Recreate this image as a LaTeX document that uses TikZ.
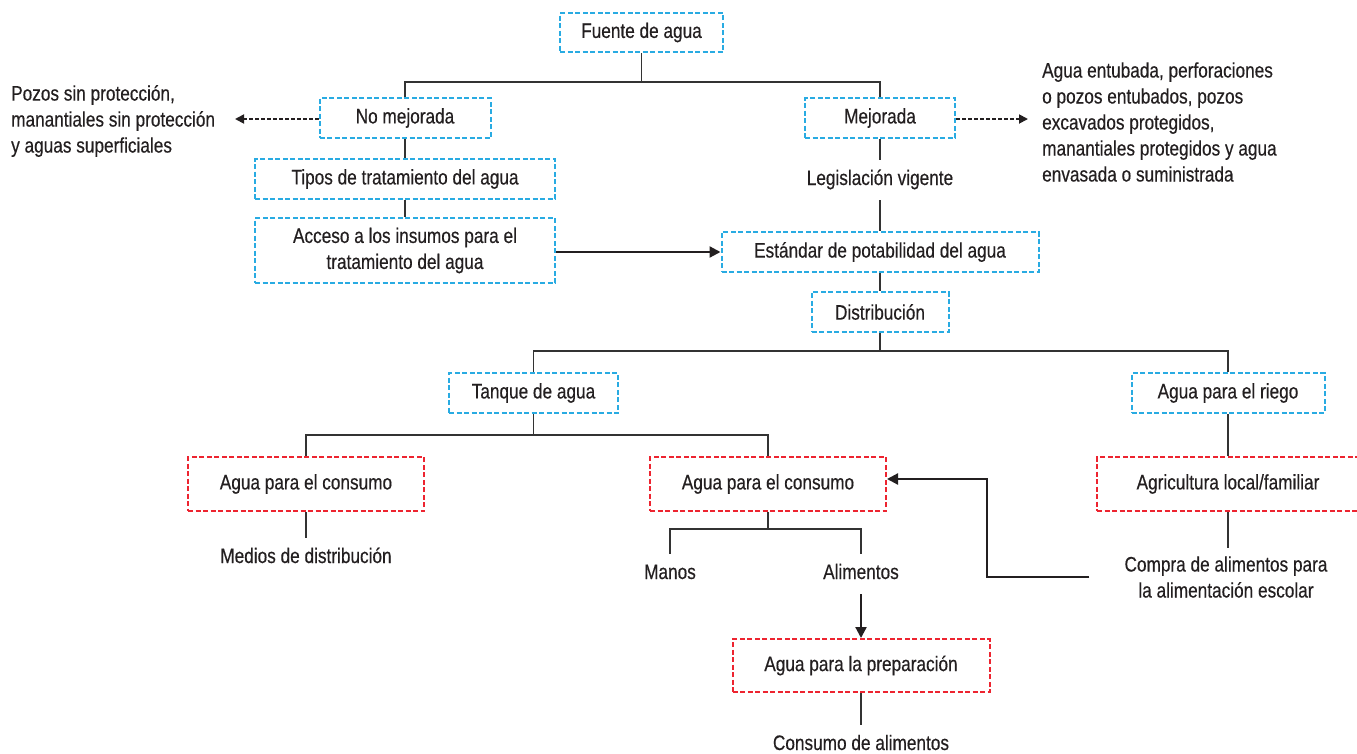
\documentclass[tikz,border=0pt]{standalone}
\usepackage{fontspec}
\setmainfont[FakeStretch=0.82,FakeBold=0.4]{Liberation Sans}
\usetikzlibrary{arrows.meta}
\definecolor{boxblue}{RGB}{41,171,226}
\definecolor{boxred}{RGB}{237,36,48}
\definecolor{ink}{RGB}{35,31,32}
\definecolor{linec}{RGB}{51,51,51}
\begin{document}
\begin{tikzpicture}[x=1pt,y=-1pt,
  every node/.style={font=\fontsize{21pt}{26pt}\selectfont, text=ink},
  bbox/.style={draw=boxblue, line width=2pt, dash pattern=on 5pt off 2.5pt, inner sep=0pt, align=center},
  rbox/.style={draw=boxred, line width=2pt, dash pattern=on 5pt off 2.5pt, inner sep=0pt, align=center},
  txt/.style={inner xsep=0pt, inner ysep=10pt, text height=15pt, text depth=5pt},
  tree/.style={draw=linec, line width=1.5pt},
  arr/.style={draw=ink, line width=2.2pt, -{Triangle[length=11pt,width=11pt]}},
  darr/.style={draw=ink, line width=1.8pt, dash pattern=on 4pt off 2pt, -{Triangle[length=9pt,width=9pt]}}]
\useasboundingbox (0,0) rectangle (1357,753);
% boxes
\node[bbox, minimum width=163pt, minimum height=39pt] (fuente) at (641.5,32.5) {Fuente de agua};
\node[bbox, minimum width=171pt, minimum height=40pt] (nomej) at (405,118) {No mejorada};
\node[bbox, minimum width=150pt, minimum height=40pt] (mej) at (880,118) {Mejorada};
\node[bbox, minimum width=300pt, minimum height=40pt] (tipos) at (405,179) {Tipos de tratamiento del agua};
\node[bbox, minimum width=300pt, minimum height=65pt] (acceso) at (405,250.5) {Acceso a los insumos para el\\tratamiento del agua};
\node[bbox, minimum width=317pt, minimum height=40pt] (estandar) at (880,252) {Estándar de potabilidad del agua};
\node[bbox, minimum width=137pt, minimum height=40pt] (distrib) at (880,312) {Distribución};
\node[bbox, minimum width=169pt, minimum height=40pt] (tanque) at (533.5,393) {Tanque de agua};
\node[bbox, minimum width=193pt, minimum height=40pt] (riego) at (1228,393) {Agua para el riego};
\node[rbox, minimum width=236pt, minimum height=54pt] (cons1) at (306,484) {Agua para el consumo};
\node[rbox, minimum width=236pt, minimum height=54pt] (cons2) at (768,484) {Agua para el consumo};
\node[rbox, minimum width=262pt, minimum height=54pt] (agri) at (1228,484) {Agricultura local/familiar};
\node[rbox, minimum width=257pt, minimum height=53pt] (prep) at (861,665.5) {Agua para la preparación};
% plain texts
\node[inner sep=0pt, align=left, anchor=west] (pozos) at (11,121) {Pozos sin protección,\\manantiales sin protección\\y aguas superficiales};
\node[inner sep=0pt, align=left, anchor=west] (mejtxt) at (1042,122) {Agua entubada, perforaciones\\o pozos entubados, pozos\\excavados protegidos,\\manantiales protegidos y agua\\envasada o suministrada};
\node[txt] (legis) at (880,180) {Legislación vigente};
\node[txt] (medios) at (306,558) {Medios de distribución};
\node[txt] (manos) at (670,574) {Manos};
\node[txt] (alim) at (861,574) {Alimentos};
\node[inner xsep=35pt, inner ysep=8pt, align=center] (compra) at (1226,577) {Compra de alimentos para\\la alimentación escolar};
\node[txt] (consal) at (861,745) {Consumo de alimentos};
% coordinates
\coordinate (b1) at (641.5,82);
\coordinate (b2) at (880,351);
\coordinate (b3) at (533.5,435);
\coordinate (b4) at (768,529);
\coordinate (pt) at (235,119);
\coordinate (mt) at (1028,119);
\coordinate (fb) at (987,479);
% tree connectors
\draw[tree] (fuente.south) -- (b1);
\draw[tree] (nomej.north) |- (b1) -| (mej.north);
\draw[tree] (nomej.south) -- (tipos.north);
\draw[tree] (tipos.south) -- (acceso.north);
\draw[tree] (mej.south) -- (legis.north);
\draw[tree] (legis.south) -- (estandar.north);
\draw[tree] (estandar.south) -- (distrib.north);
\draw[tree] (distrib.south) -- (b2);
\draw[tree] (tanque.north) |- (b2) -| (riego.north);
\draw[tree] (tanque.south) -- (b3);
\draw[tree] (cons1.north) |- (b3) -| (cons2.north);
\draw[tree] (cons1.south) -- (medios.north);
\draw[tree] (cons2.south) -- (b4);
\draw[tree] (manos.north) |- (b4) -| (alim.north);
\draw[tree] (riego.south) -- (agri.north);
\draw[tree] (agri.south) -- (agri.south |- compra.north);
\draw[tree] (prep.south) -- (consal.north);
% arrows
\draw[darr] (nomej.west |- pt) -- (pt);
\draw[darr] (mej.east |- mt) -- (mt);
\draw[arr] (acceso.east |- estandar.west) -- (estandar.west);
\draw[arr] (alim.south) -- (prep.north);
\draw[arr] (compra.west) -| (fb) -- (cons2.east |- fb);
\end{tikzpicture}
\end{document}
